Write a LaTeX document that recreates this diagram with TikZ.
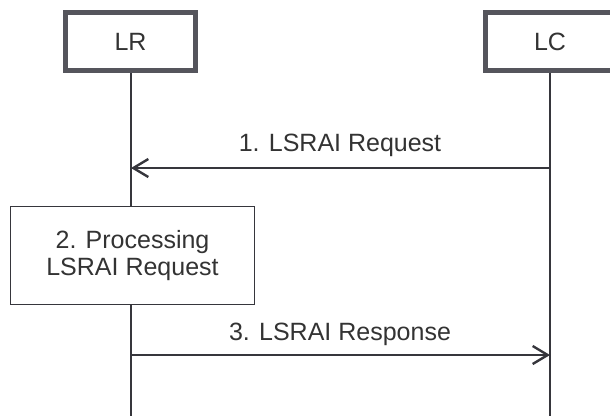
\documentclass[tikz,border=0pt]{standalone}
\usepackage{fontspec}
\setmainfont{Liberation Sans}
\usetikzlibrary{arrows.meta}
\definecolor{boxline}{HTML}{55555C}
\definecolor{lifeline}{HTML}{36363C}
\definecolor{txt}{HTML}{333333}
\tikzset{
  actor/.style={draw=boxline, line width=5pt, fill=white, minimum width=130pt, minimum height=58pt, inner sep=0pt, font=\fontsize{25}{30}\selectfont, text=txt},
  procbox/.style={draw=lifeline, line width=1.4pt, fill=white, minimum width=244pt, minimum height=98pt, align=center, inner sep=0pt, font=\fontsize{25}{25}\selectfont, text=txt},
  lline/.style={draw=lifeline, line width=2.4pt},
  msg/.style={draw=lifeline, line width=2.4pt, -{Straight Barb[length=15pt,width=18pt,line width=2.4pt]}},
  lbl/.style={font=\fontsize{25}{30}\selectfont, text=txt, inner sep=0pt}
}
\begin{document}
\begin{tikzpicture}[x=1pt,y=-1pt]
\clip (0,0) rectangle (610,415);
\fill[white] (0,0) rectangle (610,415);
\node[actor] (LR) at (130.5,41.5) {LR};
\node[actor] (LC) at (550,41.5) {LC};
\coordinate (LRend) at (131,416);
\coordinate (LCend) at (550,416);
\draw[lline] (LR.south -| LRend) -- (LRend);
\draw[lline] (LC.south -| LCend) -- (LCend);
\coordinate (m1s) at (550,168);
\coordinate (m1e) at (131,168);
\draw[msg] (m1s) -- (m1e);
\node[lbl] (l1) at (340,145) {1. LSRAI Request};
\node[procbox] (P) at (132.5,255.5) {2. Processing\\[2pt]LSRAI Request};
\coordinate (m3s) at (131,355);
\coordinate (m3e) at (550,355);
\draw[msg] (m3s) -- (m3e);
\node[lbl] (l3) at (340,334) {3. LSRAI Response};
\end{tikzpicture}
\end{document}
